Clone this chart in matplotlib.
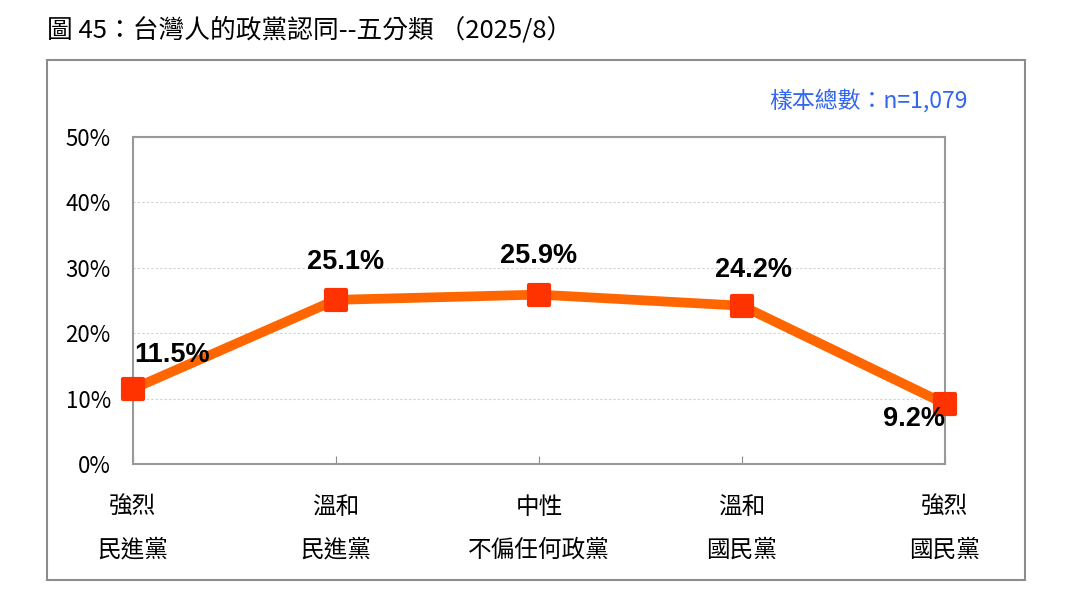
import matplotlib.pyplot as plt
from matplotlib.patches import Rectangle
from matplotlib.markers import MarkerStyle

plt.rcParams['font.family'] = ['Noto Sans CJK TC', 'DejaVu Sans']

categories = ['強烈\n民進黨', '溫和\n民進黨', '中性\n不偏任何政黨', '溫和\n國民黨', '強烈\n國民黨']
values = [11.5, 25.1, 25.9, 24.2, 9.2]
label_offsets = [(39, 34), (10, 38), (0, 39), (12, 36), (-31, -15)]
yticks = [0, 10, 20, 30, 40, 50]

W, H = 1085, 608
fig = plt.figure(figsize=(W / 100, H / 100), dpi=100)

# outer frame
fig.patches.append(Rectangle((47 / W, 1 - 580 / H), (1025 - 47) / W, (580 - 60) / H,
                             transform=fig.transFigure, fill=False,
                             edgecolor='#8c8c8c', linewidth=1.5))

fig.text(47 / W, 1 - 30 / H, '圖 45：台灣人的政黨認同--五分類 （2025/8）',
         fontsize=18.5, va='center', ha='left', color='black')
fig.text(968 / W, 1 - 101 / H, '樣本總數：n=1,079', fontsize=16.5,
         color='#3366ee', ha='right', va='center')

ax = fig.add_axes([133 / W, 1 - 464 / H, (945 - 133) / W, (464 - 137) / H])
x = list(range(len(values)))
ax.plot(x, values, color='#ff6600', linewidth=7, solid_capstyle='round',
        zorder=3, clip_on=False)
ax.plot(x, values, linestyle='none', marker=MarkerStyle('s', joinstyle='round'),
        markersize=14, markerfacecolor='#ff3300', markeredgecolor='#ff3300',
        markeredgewidth=3, zorder=4, clip_on=False)

for xi, v, (dx, dy) in zip(x, values, label_offsets):
    ax.annotate(f'{v}%', (xi, v), xytext=(dx, dy), textcoords='offset pixels',
                ha='center', va='center', fontsize=19.5, fontweight='bold',
                family=['Liberation Sans', 'DejaVu Sans'], zorder=5)

ax.set_xlim(0, len(values) - 1)
ax.set_ylim(0, 50)
ax.set_yticks(yticks)
ax.set_yticklabels([f'{t}%' for t in yticks], fontsize=16)
ax.set_xticks(x)
ax.set_xticklabels(categories, fontsize=17, linespacing=2.1)
ax.tick_params(axis='x', direction='in', length=6, color='#8c8c8c', pad=23)
ax.tick_params(axis='y', length=0, pad=16)
ax.grid(axis='y', color='#d0d0d0', linestyle=(0, (2, 2)), linewidth=0.8)
for s in ['top', 'right', 'left', 'bottom']:
    ax.spines[s].set_color('#999999')
    ax.spines[s].set_linewidth(1.5)
ax.set_axisbelow(True)

fig.savefig('out.png', dpi=100)
